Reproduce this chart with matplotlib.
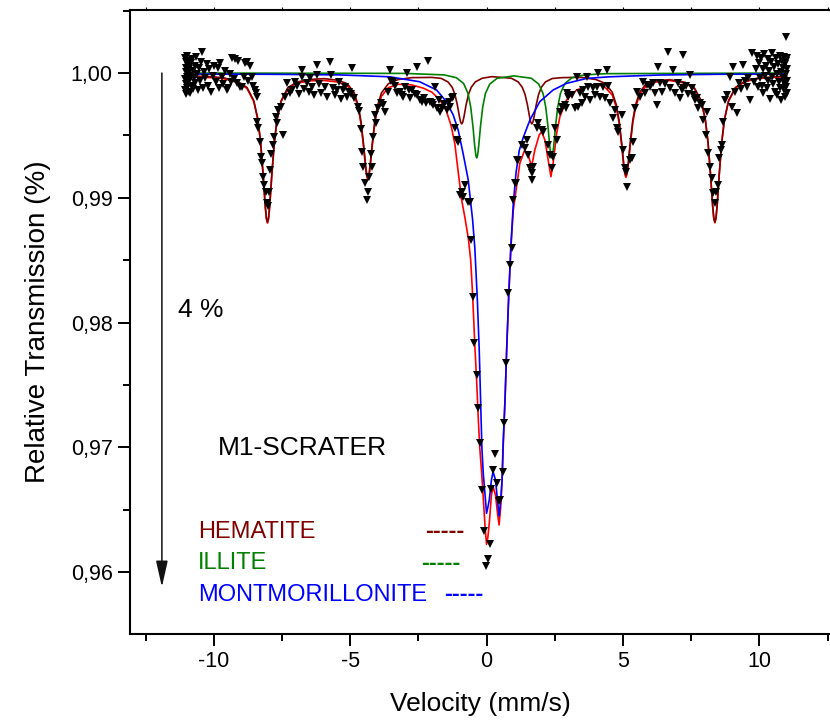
import matplotlib
matplotlib.use("Agg")
import matplotlib.pyplot as plt
from matplotlib.ticker import MultipleLocator

plt.rcParams['font.family'] = ['Liberation Sans', 'DejaVu Sans']

# measured spectrum (velocity in mm/s, relative transmission)
data_v = [
    -11.05, -11.05, -11.04, -11.03, -11.02, -11.02, -11.01, -11.00, -10.99, -10.98,
    -10.97, -10.96, -10.95, -10.94, -10.92, -10.91, -10.90, -10.88, -10.87, -10.85,
    -10.83, -10.81, -10.79, -10.77, -10.75, -10.72, -10.70, -10.67, -10.64, -10.61,
    -10.58, -10.55, -10.51, -10.47, -10.43, -10.40, -10.36, -10.31, -10.26, -10.21,
    -10.16, -10.10, -10.04, -9.98,
    -9.92, -9.86, -9.80, -9.77, -9.71, -9.65, -9.59, -9.53, -9.48, -9.42,
    -9.37, -9.33, -9.26, -9.22, -9.15, -9.11, -9.05, -8.96, -8.90, -8.85,
    -8.79, -8.73, -8.67, -8.60, -8.56, -8.49, -8.46,
    -8.42, -8.42, -8.36, -8.31, -8.27, -8.24, -8.20, -8.14, -8.09, -8.05,
    -8.02, -7.98, -7.94, -7.90, -7.84, -7.79, -7.72, -7.68, -7.63, -7.55,
    -7.46, -7.39, -7.32, -7.21,
    -7.12, -7.03, -6.95, -6.88, -6.77, -6.77, -6.70, -6.59, -6.52, -6.48,
    -6.40, -6.33, -6.22, -6.22, -6.14, -6.05, -5.93, -5.85, -5.75, -5.70,
    -5.62, -5.55, -5.49, -5.40, -5.33, -5.27, -5.20, -5.12, -5.05, -4.98, -4.93,
    -4.86, -4.72, -4.68, -4.61, -4.56, -4.52, -4.44, -4.39, -4.35, -4.31,
    -4.25, -4.21, -4.17, -4.10, -4.05, -3.98, -3.88, -3.79, -3.73,
    -3.62, -3.55, -3.50, -3.42, -3.35, -3.30, -3.18, -3.10, -3.07, -3.00,
    -2.92, -2.85, -2.80, -2.73, -2.64, -2.56, -2.55, -2.44, -2.37, -2.30,
    -2.21, -2.15, -2.08, -2.00, -1.97, -1.90, -1.82, -1.75, -1.71, -1.62,
    -1.55, -1.46, -1.38, -1.35, -1.28, -1.24,
    -1.16, -1.09, -1.05, -0.98, -0.91, -0.87, -0.80, -0.69, -0.61, -0.58,
    -0.50, -0.47, -0.36, -0.32, -0.25, -0.17, -0.10, -0.02, 0.05, 0.12,
    0.16, 0.23, 0.30, 0.38, 0.45, 0.50, 0.60, 0.63, 0.71, 0.78,
    0.85, 0.93, 0.97, 1.04, 1.08, 1.11, 1.15, 1.29, 1.40, 1.48,
    1.52, 1.59, 1.66, 1.66, 1.72, 1.84, 1.88, 2.03, 2.07, 2.25,
    2.32, 2.39, 2.43, 2.51, 2.58, 2.69, 2.76, 2.87, 2.91, 2.95,
    3.00, 3.13, 3.24, 3.31, 3.35, 3.42, 3.49, 3.53, 3.60, 3.68,
    3.72, 3.79, 3.90, 3.97, 4.05, 4.08, 4.15, 4.27, 4.34, 4.41,
    4.45, 4.52, 4.63, 4.70, 4.78, 4.82, 4.96, 5.00, 5.07, 5.11,
    5.15, 5.26, 5.33, 5.37, 5.44, 5.52, 5.63, 5.74, 5.80, 5.88,
    5.99, 6.10, 6.18, 6.25, 6.29, 6.35, 6.45, 6.55, 6.66, 6.72,
    6.84, 6.92, 7.00, 7.09, 7.15, 7.21, 7.21, 7.30, 7.38, 7.46,
    7.52, 7.57, 7.63, 7.72, 7.76, 7.83, 7.90, 7.94, 8.03, 8.09,
    8.12, 8.19, 8.27, 8.31, 8.37, 8.42, 8.49, 8.52, 8.58, 8.63,
    8.67, 8.74, 8.82, 8.93, 9.00, 9.04, 9.10, 9.18, 9.25, 9.33,
    9.41, 9.48, 9.55, 9.60, 9.66, 9.73, 9.80, 9.87, 9.91, 9.96,
    10.00, 10.03, 10.06, 10.09, 10.12, 10.15, 10.18, 10.21, 10.24, 10.27,
    10.30, 10.33, 10.36, 10.39, 10.42, 10.45, 10.48, 10.51, 10.54, 10.57,
    10.60, 10.63, 10.66, 10.69, 10.72, 10.75, 10.77, 10.79, 10.81, 10.83,
    10.85, 10.87, 10.89, 10.91, 10.92, 10.94, 10.95, 10.96, 10.97, 10.98,
    10.99, 11.00, 11.01, 11.02, 11.03,
]
data_t = [
    1.0012, 0.9995, 0.9986, 1.0004, 0.9991, 1.0009, 0.9983, 1.0001, 0.9997, 1.0014,
    0.9988, 1.0006, 0.9993, 0.9999, 1.0010, 0.9985, 1.0003, 0.9995, 0.9984, 1.0008,
    0.9998, 0.9990, 1.0011, 1.0002, 0.9987, 0.9996, 1.0006, 0.9992, 1.0013, 0.9999,
    0.9986, 1.0004, 0.9994, 1.0009, 1.0017, 0.9988, 1.0001, 0.9996, 1.0007, 0.9990,
    1.0003, 0.9985, 0.9998, 1.0006,
    0.9993, 1.0004, 0.9988, 1.0008, 0.9997, 0.9991, 1.0002, 0.9986, 0.9988, 0.9999,
    0.9993, 1.0012, 0.9995, 1.0011, 0.9992, 1.0010, 0.9989, 0.9989, 0.9997, 1.0008,
    1.0009, 0.9994, 1.0006, 0.9997, 0.9990, 0.9986, 0.9984,
    0.99807, 0.99607, 0.99560, 0.99447, 0.99330, 0.99279, 0.99166, 0.99100, 0.99046, 0.98958,
    0.98934, 0.99050, 0.99222, 0.99350, 0.99420, 0.99487, 0.99650, 0.99599, 0.99703, 0.99730,
    0.99503, 0.99808, 0.99920, 0.99840,
    0.9986, 0.99928, 0.9990, 0.9983, 1.00024, 0.9997, 0.9987, 0.9992, 0.9985, 0.9996,
    0.9989, 0.9982, 1.00064, 0.99984, 0.9991, 0.9984, 0.99888, 0.9981, 1.0009, 0.99984,
    0.9988, 0.9982, 0.99864, 0.9993, 0.9979, 0.99864, 0.9989, 0.9981, 0.9985, 0.9983, 1.0004,
    0.9980, 0.9973, 0.99693, 0.9955, 0.99367, 0.99247, 0.9912, 0.98982, 0.99046, 0.99166,
    0.9935, 0.99247, 0.99487, 0.99663, 0.9960, 0.99719, 0.9976, 0.99743, 0.99687,
    0.9985, 1.00024, 0.9994, 0.99928, 0.9990, 0.9984, 0.99848, 0.9982, 0.99808, 0.99888,
    1.0000, 0.9986, 0.9980, 0.99864, 0.9983, 1.00048, 0.9982, 0.99784, 0.99768, 0.9980,
    0.9976, 1.0010, 0.99768, 0.9976, 0.9974, 0.99888, 0.9972, 0.9978, 0.9969, 0.9972,
    0.9975, 0.99703, 0.9977, 0.99727, 0.9980, 0.99808,
    0.99559, 0.99463, 0.99447, 0.99022, 0.99046, 0.99006, 0.99102, 0.98966, 0.98966, 0.98661,
    0.98204, 0.97836, 0.97579, 0.97315, 0.97034, 0.96657, 0.96329, 0.96048, 0.96104, 0.96224,
    0.96665, 0.96818, 0.96946, 0.96713, 0.96569, 0.96580, 0.96802, 0.97194, 0.97675, 0.98236,
    0.98461, 0.98597, 0.98982, 0.99118, 0.99118, 0.99303, 0.99303, 0.99423, 0.99400, 0.99463,
    0.99343, 0.99238, 0.99198, 0.99142, 0.99250, 0.99559, 0.99599, 0.99543, 0.99527, 0.99423,
    0.99343, 0.99238, 0.99327, 0.99559, 0.99463, 0.99687, 0.99727, 0.99743, 0.99720, 0.99840,
    0.99808, 0.99824, 0.99720, 0.99970, 0.99727, 0.99840, 0.99760, 0.99864, 0.99810, 0.99970,
    0.99888, 0.99784, 0.99880, 0.99820, 0.99888, 1.00000, 0.99808, 0.99888, 0.99800, 1.00024,
    0.99900, 0.99760, 0.99639, 0.99700, 0.99559, 0.99527, 0.99663, 0.99383, 0.99238, 0.99206,
    0.99086, 0.99303, 0.99319, 0.99447, 0.99720, 0.99848, 0.99808, 0.99928, 0.99840, 0.99904,
    0.99888, 0.99920, 0.99840, 0.99743, 1.00048, 0.99920, 0.99850, 0.99910, 1.00168, 0.99880,
    1.00024, 0.99840, 0.99920, 0.99800, 0.99860, 0.99880, 1.00144, 0.99900, 0.99830, 0.99984,
    0.99880, 0.99824, 0.99780, 0.99800, 0.99720, 0.99760, 0.99744, 0.99623, 0.99500, 0.99687,
    0.99359, 0.99247, 0.99158, 0.99038, 0.98958, 0.99050, 0.99102, 0.99319, 0.99380, 0.99423,
    0.99607, 0.99784, 0.99824, 0.99970, 0.99727, 1.00048, 0.99850, 0.99680, 0.99920, 0.99870,
    1.00064, 0.99940, 0.99890, 0.99960, 0.99784, 1.00160, 0.99930, 1.00030, 1.00140, 0.99888,
    1.0008, 0.9996, 1.0012, 0.9990, 1.0003, 0.9984, 1.0015, 0.9998, 1.0006, 0.9988,
    1.0011, 0.9994, 1.0002, 0.9979, 1.0009, 0.9997, 1.0016, 0.9991, 1.0005, 0.9985,
    1.0012, 0.9999, 0.9982, 1.0007, 0.9993, 1.0014, 0.9988, 1.0001, 0.9978, 1.0010,
    0.9996, 1.0004, 0.9986, 1.0013, 0.9992, 1.0007, 0.9981, 0.9999, 1.0029, 1.0010,
    0.9989, 1.0003, 0.9994, 1.0012, 0.9984,
]

# total fit (red)
fit_v = [
    -11.0, -10.0, -9.63, -9.13, -8.78, -8.53, -8.38, -8.28, -8.19, -8.11,
    -8.07, -8.03, -7.99, -7.95, -7.87, -7.78, -7.68, -7.53, -7.28, -6.93,
    -6.43, -5.95, -5.45, -5.10, -4.85, -4.70, -4.60, -4.51, -4.43, -4.39,
    -4.35, -4.31, -4.27, -4.19, -4.10, -4.00, -3.85, -3.60, -3.25, -2.75,
    -2.32, -2.00, -1.71, -1.47, -1.30, -1.16, -1.04, -0.91, -0.80, -0.67,
    -0.58, -0.51, -0.43, -0.36, -0.30, -0.25, -0.18, -0.10, -0.05, 0.00,
    0.05, 0.10, 0.18, 0.24, 0.33, 0.40, 0.46, 0.52, 0.57, 0.61,
    0.68, 0.74, 0.81, 0.89, 0.98, 1.10, 1.22, 1.40, 1.53, 1.65,
    1.77, 1.93, 2.02, 2.14, 2.26, 2.36, 2.44, 2.57, 2.69, 2.93,
    3.30, 3.79, 4.28, 4.61, 4.76, 4.86, 4.95, 5.03, 5.07, 5.11,
    5.15, 5.19, 5.27, 5.36, 5.46, 5.61, 5.86, 6.21, 6.71, 7.27,
    7.62, 7.87, 8.02, 8.12, 8.21, 8.29, 8.33, 8.37, 8.41, 8.45,
    8.53, 8.62, 8.72, 8.87, 9.12, 9.47, 9.97, 11.0,
]
fit_t = [
    0.99970, 0.99962, 0.99954, 0.99927, 0.99876, 0.99770, 0.99621, 0.99437, 0.99182, 0.98924,
    0.98831, 0.98797, 0.98831, 0.98924, 0.99182, 0.99437, 0.99621, 0.99770, 0.99876, 0.99920,
    0.99938, 0.99940, 0.99928, 0.99897, 0.99824, 0.99719, 0.99590, 0.99413, 0.99235, 0.99170,
    0.99145, 0.99170, 0.99235, 0.99413, 0.99588, 0.99714, 0.99815, 0.99882, 0.99910, 0.99905,
    0.99879, 0.99846, 0.99785, 0.99694, 0.99580, 0.99430, 0.99210, 0.98980, 0.98850, 0.98680,
    0.98500, 0.98220, 0.97820, 0.97520, 0.97220, 0.97000, 0.96800, 0.96520, 0.96350, 0.96222,
    0.96280, 0.96390, 0.96617, 0.96684, 0.96617, 0.96473, 0.96377, 0.96523, 0.96737, 0.97000,
    0.97395, 0.97796, 0.98196, 0.98597, 0.98900, 0.99088, 0.99276, 0.99383, 0.99343, 0.99249,
    0.99383, 0.99503, 0.99530, 0.99463, 0.99303, 0.99169, 0.99276, 0.99517, 0.99650, 0.99784,
    0.99864, 0.99904, 0.99900, 0.99823, 0.99723, 0.99599, 0.99426, 0.99251, 0.99188, 0.99163,
    0.99188, 0.99251, 0.99426, 0.99599, 0.99723, 0.99825, 0.99898, 0.99928, 0.99940, 0.99920,
    0.99875, 0.99772, 0.99623, 0.99439, 0.99184, 0.98926, 0.98833, 0.98799, 0.98833, 0.98926,
    0.99184, 0.99439, 0.99623, 0.99772, 0.99878, 0.99930, 0.99956, 0.99972,
]

# hematite sextet (dark red)
hem_v = [
    -11.0, -10.0, -9.63, -9.13, -8.78, -8.53, -8.38, -8.28, -8.19, -8.11,
    -8.07, -8.03, -7.99, -7.95, -7.87, -7.78, -7.68, -7.53, -7.28, -6.93,
    -6.43, -5.95, -5.45, -5.10, -4.85, -4.70, -4.60, -4.51, -4.43, -4.39,
    -4.35, -4.31, -4.27, -4.19, -4.10, -4.00, -3.85, -3.60, -3.25, -2.75,
    -2.00, -1.66, -1.41, -1.26, -1.16, -1.07, -0.99, -0.95, -0.91, -0.87,
    -0.83, -0.75, -0.66, -0.56, -0.41, -0.16, 0.19, 0.50, 0.91, 1.16,
    1.31, 1.41, 1.50, 1.58, 1.62, 1.66, 1.70, 1.74, 1.82, 1.91,
    2.01, 2.16, 2.41, 2.76, 3.26, 3.51, 4.01, 4.36, 4.61, 4.76,
    4.86, 4.95, 5.03, 5.07, 5.11, 5.15, 5.19, 5.27, 5.36, 5.46,
    5.61, 5.86, 6.21, 6.71, 7.27, 7.62, 7.87, 8.02, 8.12, 8.21,
    8.29, 8.33, 8.37, 8.41, 8.45, 8.53, 8.62, 8.72, 8.87, 9.12,
    9.47, 9.97, 11.0,
]
hem_t = [
    0.99978, 0.99969, 0.99961, 0.99935, 0.99884, 0.99778, 0.99629, 0.99445, 0.99190, 0.98932,
    0.98839, 0.98805, 0.98839, 0.98932, 0.99190, 0.99445, 0.99629, 0.99778, 0.99884, 0.99929,
    0.99949, 0.99955, 0.99942, 0.99914, 0.99841, 0.99737, 0.99609, 0.99432, 0.99254, 0.99189,
    0.99162, 0.99189, 0.99254, 0.99432, 0.99609, 0.99737, 0.99841, 0.99914, 0.99947, 0.99963,
    0.99965, 0.99957, 0.99928, 0.99886, 0.99830, 0.99744, 0.99646, 0.99607, 0.99592, 0.99607,
    0.99646, 0.99744, 0.99830, 0.99886, 0.99929, 0.99958, 0.99971, 0.99966, 0.99958, 0.99929,
    0.99886, 0.99830, 0.99744, 0.99646, 0.99607, 0.99592, 0.99607, 0.99646, 0.99744, 0.99830,
    0.99886, 0.99929, 0.99956, 0.99963, 0.99965, 0.99964, 0.99948, 0.99916, 0.99845, 0.99743,
    0.99619, 0.99446, 0.99271, 0.99208, 0.99183, 0.99208, 0.99271, 0.99446, 0.99619, 0.99743,
    0.99845, 0.99916, 0.99938, 0.99947, 0.99926, 0.99880, 0.99778, 0.99629, 0.99445, 0.99190,
    0.98932, 0.98839, 0.98805, 0.98839, 0.98932, 0.99190, 0.99445, 0.99629, 0.99778, 0.99884,
    0.99935, 0.99961, 0.99976,
]

# illite doublet (green)
ill_v = [
    -11.0, -3.0, -1.56, -1.11, -0.84, -0.68, -0.58, -0.50, -0.43, -0.39,
    -0.36, -0.33, -0.29, -0.22, -0.14, -0.04, 0.12, 0.39, 1.015, 1.64,
    1.91, 2.07, 2.17, 2.25, 2.32, 2.36, 2.39, 2.42, 2.46, 2.53,
    2.61, 2.71, 2.87, 3.14, 3.59, 4.39, 11.0,
]
ill_t = [
    1.00000, 0.99997, 0.99985, 0.99963, 0.99916, 0.99837, 0.99727, 0.99576, 0.99409, 0.99338,
    0.99320, 0.99338, 0.99409, 0.99576, 0.99727, 0.99837, 0.99912, 0.99958, 0.99977, 0.99958,
    0.99912, 0.99837, 0.99727, 0.99576, 0.99409, 0.99338, 0.99320, 0.99338, 0.99409, 0.99576,
    0.99727, 0.99837, 0.99916, 0.99963, 0.99985, 0.99995, 1.00000,
]

# montmorillonite doublet (blue)
mon_v = [
    -11.0, -8.0, -5.4, -3.55, -2.45, -1.83, -1.47, -1.22, -1.04, -0.86,
    -0.67, -0.51, -0.43, -0.34, -0.27, -0.22, -0.17, -0.12, -0.06, 0.00,
    0.05, 0.10, 0.18, 0.24, 0.33, 0.40, 0.46, 0.52, 0.57, 0.61,
    0.68, 0.74, 0.81, 0.89, 0.98, 1.08, 1.20, 1.34, 1.59, 1.95,
    2.44, 2.93, 3.67, 4.52, 6.35, 8.5, 11.0,
]
mon_t = [
    0.99992, 0.99990, 0.99985, 0.99970, 0.99930, 0.99864, 0.99770, 0.99663, 0.99543, 0.99356,
    0.99142, 0.98822, 0.98600, 0.98196, 0.97796, 0.97395, 0.96994, 0.96791, 0.96633, 0.96470,
    0.96520, 0.96577, 0.96737, 0.96804, 0.96737, 0.96577, 0.96449, 0.96577, 0.96737, 0.97040,
    0.97395, 0.97796, 0.98196, 0.98597, 0.98950, 0.99200, 0.99380, 0.99480, 0.99623, 0.99770,
    0.99864, 0.99917, 0.99957, 0.99970, 0.99984, 0.99990, 0.99992,
]

phases = ["HEMATITE", "ILLITE", "MONTMORILLONITE"]
phase_colors = ["#800000", "#008000", "#0000ff"]

fig = plt.figure(figsize=(8.3, 7.27), dpi=100)
ax = fig.add_axes([0.1566, 0.1279, 0.8434, 0.8583])

ax.plot(fit_v, fit_t, color="red", lw=1.2, zorder=2)
ax.plot(hem_v, hem_t, color=phase_colors[0], lw=1.2, zorder=3)
ax.plot(ill_v, ill_t, color=phase_colors[1], lw=1.2, zorder=3)
ax.plot(mon_v, mon_t, color=phase_colors[2], lw=1.2, zorder=3)
ax.plot(data_v, data_t, "v", color="black", ms=6, mew=0, zorder=4)

ax.set_xlim(-13.07, 12.59)
ax.set_ylim(0.95503, 1.00505)

ax.set_xticks([-10, -5, 0, 5, 10])
ax.set_xticklabels(["-10", "-5", "0", "5", "10"])
ax.xaxis.set_minor_locator(MultipleLocator(2.5))
ax.set_yticks([0.96, 0.97, 0.98, 0.99, 1.00])
ax.set_yticklabels(["0,96", "0,97", "0,98", "0,99", "1,00"])
ax.yaxis.set_minor_locator(MultipleLocator(0.005))

ax.tick_params(which="major", direction="out", length=8.5, width=1.4, labelsize=15.5, pad=4)
ax.tick_params(which="minor", direction="out", length=5, width=1.4)
ax.tick_params(which="both", top=True, labeltop=False)
ax.spines["right"].set_visible(False)
for s in ["left", "bottom", "top"]:
    ax.spines[s].set_linewidth(1.5)
# top ticks are tiny
for t in ax.xaxis.get_major_ticks() + ax.xaxis.get_minor_ticks():
    t.tick2line.set_markersize(2)
    t.tick2line.set_markeredgewidth(0.8)

ax.set_xlabel("Velocity (mm/s)", fontsize=19, labelpad=14)
ax.set_ylabel("Relative Transmission (%)", fontsize=20, labelpad=14)

ax.annotate("", xy=(-11.9, 0.9588), xytext=(-11.9, 1.0),
            arrowprops=dict(arrowstyle="-|>,head_length=0.8,head_width=0.18",
                            mutation_scale=20, color="#111111", lw=1.1,
                            shrinkA=0, shrinkB=0))
ax.text(-11.3, 0.9810, "4 %", fontsize=19, va="center", ha="left")
ax.text(-9.84, 0.96994, "M1-SCRATER", fontsize=19, va="center", ha="left")

label_y = [0.96321, 0.96072, 0.95816]
dash_x = [-2.26, -2.41, -1.56]
for name, c, yy, dx in zip(phases, phase_colors, label_y, dash_x):
    ax.text(-10.57, yy, name, color=c, fontsize=17, va="center", ha="left")
    ax.text(dx, yy, "-----", color=c, fontsize=17, fontweight="bold",
            va="center", ha="left")

fig.savefig("out.png", dpi=100)
